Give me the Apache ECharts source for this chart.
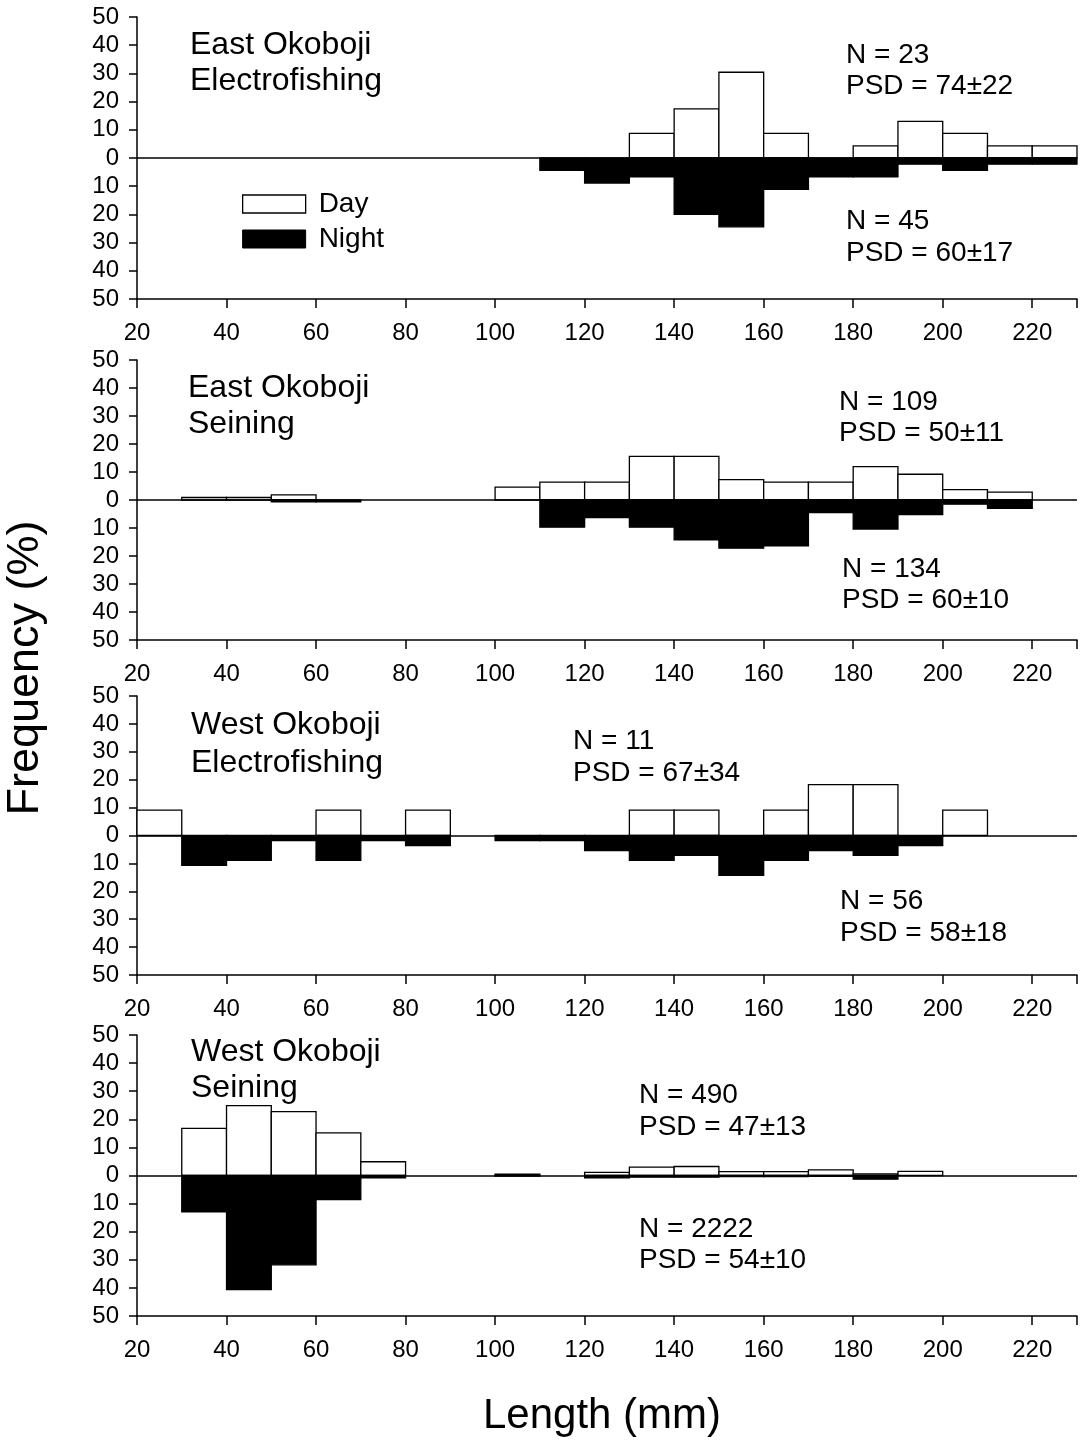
<!DOCTYPE html>
<html><head><meta charset="utf-8">
<script src="https://cdn.jsdelivr.net/npm/echarts@6/dist/echarts.min.js"></script>
<style>html,body{margin:0;padding:0;background:#fff}#c{width:1083px;height:1440px}</style>
</head><body><div id="c"></div><script>
// ---- data ----
// bins of 10 mm, starting at these lengths (20-30, 30-40, ... 220-230)
const binStarts = [20,30,40,50,60,70,80,90,100,110,120,130,140,150,160,170,180,190,200,210,220];
const BIN = 10;

// East Okoboji – Electrofishing (% frequency)
const eoElecDay   = [0,0,0,0,0,0,0,0,0,0,0,8.7,17.4,30.4,8.7,0,4.3,13.0,8.7,4.3,4.3];
const eoElecNight = [0,0,0,0,0,0,0,0,0,4.4,8.9,6.7,20.0,24.4,11.1,6.7,6.7,2.2,4.4,2.2,2.2];
// East Okoboji – Seining
const eoSeinDay   = [0,0.9,0.9,1.8,0,0,0,0,4.6,6.4,6.4,15.6,15.6,7.3,6.4,6.4,11.9,9.2,3.7,2.8,0];
const eoSeinNight = [0,0,0,0.7,0.7,0,0,0,0,9.7,6.3,9.7,14.2,17.2,16.4,4.5,10.4,5.2,1.5,3.0,0];
// West Okoboji – Electrofishing
const woElecDay   = [9.1,0,0,0,9.1,0,9.1,0,0,0,0,9.1,9.1,0,9.1,18.2,18.2,0,9.1,0,0];
const woElecNight = [0,10.7,8.9,1.8,8.9,1.8,3.6,0,1.8,1.8,5.4,8.9,7.1,14.3,8.9,5.4,7.1,3.6,0,0,0];
// West Okoboji – Seining
const woSeinDay   = [0,16.8,24.9,22.7,15.2,4.9,0,0,0.5,0,1.1,3.0,3.2,1.4,1.4,2.0,0.6,1.5,0,0,0];
const woSeinNight = [0,12.9,40.6,31.8,8.6,0.8,0,0,0.2,0,0.8,0.6,0.6,0.4,0.4,0.3,1.3,0,0,0,0];

const panelTitles = [['East Okoboji','Electrofishing'],['East Okoboji','Seining'],['West Okoboji','Electrofishing'],['West Okoboji','Seining']];
const dayStats   = [['N = 23','PSD = 74\u00B122'],['N = 109','PSD = 50\u00B111'],['N = 11','PSD = 67\u00B134'],['N = 490','PSD = 47\u00B113']];
const nightStats = [['N = 45','PSD = 60\u00B117'],['N = 134','PSD = 60\u00B110'],['N = 56','PSD = 58\u00B118'],['N = 2222','PSD = 54\u00B110']];
const seriesNames = ['Day','Night'];
const xAxisTitle = 'Length (mm)';
const yAxisTitle = 'Frequency (%)';

const panels = [
  [eoElecDay, eoElecNight],
  [eoSeinDay, eoSeinNight],
  [woElecDay, woElecNight],
  [woSeinDay, woSeinNight]
];

// ---- layout ----
const FONT = '"Liberation Sans", Arial, Helvetica, sans-serif';
const gridTops = [17, 360, 696, 1035];
const gridHeights = [282, 280, 279, 281];
const titlePos = [[190,45,81],[188,388,424],[191,725,763],[191,1052,1088]];
const dayStatPos = [[846,55,86],[839,402,433],[573,741,773],[639,1095,1127]];
const nightStatPos = [[846,221,253],[842,569,600],[840,901,933],[639,1229,1260]];

function makeRender(isNight){
  return function(params, api){
    const x0 = api.value(0), v = api.value(1);
    const a = api.coord([x0, v]);
    const b = api.coord([x0 + BIN, 0]);
    return {
      type: 'rect',
      shape: {x: a[0], y: Math.min(a[1], b[1]), width: b[0] - a[0], height: Math.abs(b[1] - a[1])},
      style: {fill: isNight ? '#000' : '#fff', stroke: '#000', lineWidth: 1.3}
    };
  };
}

const grids = [], xAxes = [], yAxes = [], series = [], graphics = [];
function addText(x, y, text, size){
  graphics.push({type: 'text', x: x, y: y, style: {text: text, fontSize: size, fontFamily: FONT, fill: '#000', verticalAlign: 'middle'}});
}
panels.forEach((p, i) => {
  grids.push({left: 137, right: 6, top: gridTops[i], height: gridHeights[i]});
  xAxes.push({
    type: 'value', gridIndex: i, min: 20, max: 230, interval: 20,
    axisLine: {onZero: false, lineStyle: {color: '#000', width: 1.5}},
    axisTick: {inside: false, length: 9, lineStyle: {color: '#000', width: 1.5}},
    axisLabel: {color: '#000', fontSize: 24, fontFamily: FONT, margin: 22,
      formatter: v => (v > 220 ? '' : String(v))},
    splitLine: {show: false}
  });
  yAxes.push({
    type: 'value', gridIndex: i, min: -50, max: 50, interval: 10,
    axisLine: {show: true, lineStyle: {color: '#000', width: 1.5}},
    axisTick: {show: true, length: 8, lineStyle: {color: '#000', width: 1.5}},
    axisLabel: {color: '#000', fontSize: 24, fontFamily: FONT, margin: 18,
      formatter: v => String(Math.abs(v))},
    splitLine: {show: false}
  });
  const dayData = [], nightData = [];
  binStarts.forEach((s, k) => {
    if (p[0][k] > 0) dayData.push([s, p[0][k]]);
    if (p[1][k] > 0) nightData.push([s, -p[1][k]]);
  });
  series.push({
    name: seriesNames[0], type: 'custom', xAxisIndex: i, yAxisIndex: i,
    renderItem: makeRender(false), data: dayData, silent: true, z: 2,
    itemStyle: {color: '#fff', borderColor: '#000'},
    markLine: {silent: true, symbol: 'none', label: {show: false},
      lineStyle: {color: '#000', width: 1.6, type: 'solid'}, data: [{yAxis: 0}]}
  });
  series.push({
    name: seriesNames[1], type: 'custom', xAxisIndex: i, yAxisIndex: i,
    renderItem: makeRender(true), data: nightData, silent: true, z: 3,
    itemStyle: {color: '#000'}
  });
  const tp = titlePos[i];
  addText(tp[0], tp[1], panelTitles[i][0], 32);
  addText(tp[0], tp[2], panelTitles[i][1], 32);
  const dp = dayStatPos[i], np = nightStatPos[i];
  addText(dp[0], dp[1], dayStats[i][0], 28);
  addText(dp[0], dp[2], dayStats[i][1], 28);
  addText(np[0], np[1], nightStats[i][0], 28);
  addText(np[0], np[2], nightStats[i][1], 28);
});

graphics.push({type: 'text', x: 602, y: 1416, style: {text: xAxisTitle, fontSize: 42, fontFamily: FONT, fill: '#000', align: 'center', verticalAlign: 'middle'}});
graphics.push({type: 'text', x: 26, y: 668, rotation: Math.PI / 2, style: {text: yAxisTitle, fontSize: 45, fontFamily: FONT, fill: '#000', align: 'center', verticalAlign: 'middle'}});

const chart = echarts.init(document.getElementById('c'), null, {renderer: 'canvas'});
chart.setOption({
  animation: false,
  backgroundColor: '#fff',
  grid: grids, xAxis: xAxes, yAxis: yAxes, series: series,
  legend: {
    left: 242, top: 190, padding: 0, orient: 'vertical', icon: 'rect',
    itemWidth: 63, itemHeight: 18, itemGap: 7, selectedMode: false,
    textStyle: {fontSize: 28, fontFamily: FONT, color: '#000', padding: [0, 0, 0, 8]},
    data: [
      {name: 'Day', itemStyle: {color: '#fff', borderColor: '#000', borderWidth: 1.3}},
      {name: 'Night', itemStyle: {color: '#000', borderColor: '#000', borderWidth: 1}}
    ]
  },
  graphic: graphics
});
</script></body></html>
